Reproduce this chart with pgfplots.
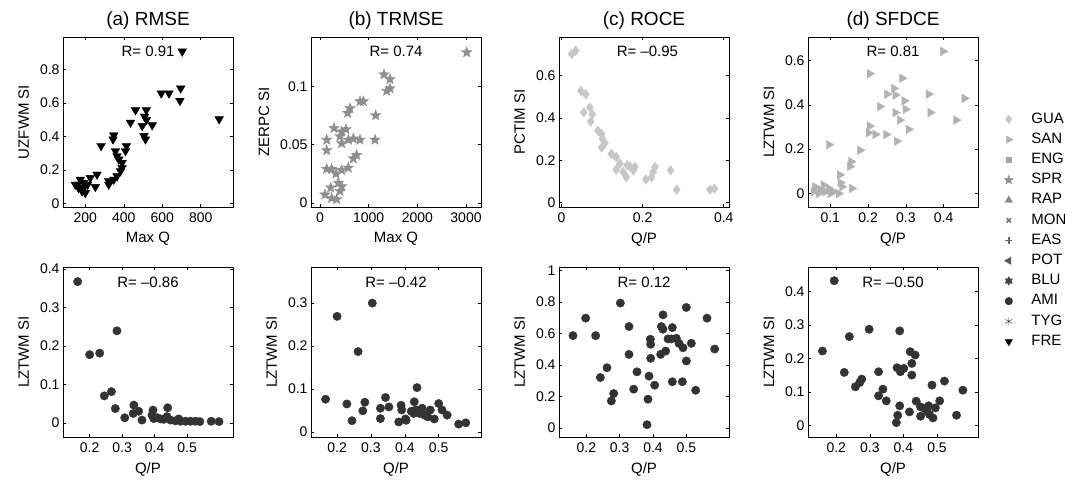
\documentclass[border=0pt]{standalone}
\usepackage{fontspec}
\setmainfont{Liberation Sans}
\usepackage{pgfplots}
\pgfplotsset{compat=1.18}
\usetikzlibrary{plotmarks}

% filled five-point star
\pgfdeclareplotmark{fstar}{%
  \pgfpathmoveto{\pgfpointpolar{90}{\pgfplotmarksize}}%
  \pgfpathlineto{\pgfpointpolar{126}{0.42\pgfplotmarksize}}%
  \pgfpathlineto{\pgfpointpolar{162}{\pgfplotmarksize}}%
  \pgfpathlineto{\pgfpointpolar{198}{0.42\pgfplotmarksize}}%
  \pgfpathlineto{\pgfpointpolar{234}{\pgfplotmarksize}}%
  \pgfpathlineto{\pgfpointpolar{270}{0.42\pgfplotmarksize}}%
  \pgfpathlineto{\pgfpointpolar{306}{\pgfplotmarksize}}%
  \pgfpathlineto{\pgfpointpolar{342}{0.42\pgfplotmarksize}}%
  \pgfpathlineto{\pgfpointpolar{18}{\pgfplotmarksize}}%
  \pgfpathlineto{\pgfpointpolar{54}{0.42\pgfplotmarksize}}%
  \pgfpathclose
  \pgfusepathqfillstroke}
% six-point star (hexagram)
\pgfdeclareplotmark{hexstar}{%
  \pgfpathmoveto{\pgfpointpolar{90}{\pgfplotmarksize}}%
  \pgfpathlineto{\pgfpointpolar{210}{\pgfplotmarksize}}%
  \pgfpathlineto{\pgfpointpolar{330}{\pgfplotmarksize}}%
  \pgfpathclose
  \pgfpathmoveto{\pgfpointpolar{270}{\pgfplotmarksize}}%
  \pgfpathlineto{\pgfpointpolar{390}{\pgfplotmarksize}}%
  \pgfpathlineto{\pgfpointpolar{510}{\pgfplotmarksize}}%
  \pgfpathclose
  \pgfusepathqfillstroke}

\definecolor{cGUA}{gray}{0.78}
\definecolor{cSAN}{gray}{0.70}
\definecolor{cENG}{gray}{0.64}
\definecolor{cSPR}{gray}{0.56}
\definecolor{cRAP}{gray}{0.52}
\definecolor{cMON}{gray}{0.46}
\definecolor{cEAS}{gray}{0.40}
\definecolor{cPOT}{gray}{0.34}
\definecolor{cBLU}{gray}{0.27}
\definecolor{cAMI}{gray}{0.20}
\definecolor{cTYG}{gray}{0.12}
\definecolor{cFRE}{gray}{0.0}

\newcommand\tk{\fontsize{14}{14}\selectfont}
\newcommand\lb{\fontsize{15}{15}\selectfont}
\newcommand\ttl{\fontsize{19}{19}\selectfont}

\tikzset{rtext/.style={font=\lb}}
\pgfplotsset{
  panel/.style={
    scale only axis, width=170pt, height=170pt, anchor=south west,
    axis line style={line width=0.9pt}, tick style={line width=0.5pt, black},
    major tick length=3pt, tick align=inside,
    ticklabel style={font=\tk}, label style={font=\lb},
    title style={font=\ttl, yshift=-2pt},
    xticklabel style={yshift=-2pt},
    /pgf/number format/assume math mode=true,
    scaled ticks=false,
    xlabel style={yshift=-3pt}, ylabel style={yshift=4pt},
  },
}

\begin{document}
\begin{tikzpicture}
\useasboundingbox (0pt,0pt) rectangle (1065pt,480pt);

% (a) RMSE
\begin{axis}[panel, at={(63pt,273pt)}, title={(a) RMSE},
  xmin=84, xmax=968, ymin=-0.02, ymax=0.994,
  xtick={200,400,600,800}, xticklabels={200,400,600,800},
  ytick={0,0.2,0.4,0.6,0.8}, yticklabels={0,0.2,0.4,0.6,0.8},
  xlabel={Max Q}, ylabel={UZFWM SI}]
\addplot[only marks, mark=triangle*, mark size=5pt, color=cFRE, mark options={rotate=180}] coordinates {
 (704,0.908)(696,0.688)(692,0.614)(595,0.658)(635,0.658)(896,0.504)(461,0.558)(517,0.558)
 (508,0.52)(518,0.50)(548,0.468)(496,0.464)(505,0.404)(513,0.384)(435,0.484)(348,0.408)
 (344,0.384)(282,0.344)(414,0.344)(409,0.314)(357,0.314)(365,0.284)(374,0.264)(391,0.244)
 (383,0.194)(365,0.164)(348,0.144)(322,0.134)(322,0.114)(391,0.214)(261,0.174)(226,0.154)
 (212,0.114)(252,0.10)(174,0.144)(191,0.124)(157,0.114)(165,0.094)(183,0.074)(200,0.064)
 (191,0.094)(148,0.114)};
\node[rtext] at (rel axis cs:0.5,0.915) {R= 0.91};
\end{axis}

% (b) TRMSE
\begin{axis}[panel, at={(311pt,273pt)}, title={(b) TRMSE},
  xmin=-185, xmax=3308, ymin=-0.0036, ymax=0.1422,
  xtick={0,1000,2000,3000}, xticklabels={0,1000,2000,3000},
  ytick={0,0.05,0.1}, yticklabels={0,0.05,0.1},
  xlabel={Max Q}, ylabel={ZERPC SI}]
\addplot[only marks, mark=fstar, mark size=5.5pt, color=cSPR] coordinates {
 (3014,0.129)(1315,0.110)(1438,0.106)(1370,0.096)(1438,0.098)(1144,0.075)(1130,0.054)
 (822,0.087)(890,0.087)(616,0.081)(568,0.077)(288,0.064)(445,0.061)(534,0.063)(411,0.057)
 (445,0.051)(582,0.054)(685,0.055)(822,0.054)(137,0.054)(137,0.045)(753,0.041)(685,0.038)
 (582,0.030)(137,0.029)(240,0.029)(329,0.025)(445,0.028)(377,0.017)(445,0.014)(411,0.010)
 (103,0.007)(240,0.004)(343,0.003)(219,0.013)};
\node[rtext] at (rel axis cs:0.5,0.915) {R= 0.74};
\end{axis}

% (c) ROCE
\begin{axis}[panel, at={(559pt,273pt)}, title={(c) ROCE},
  xmin=-0.006, xmax=0.413, ymin=-0.02, ymax=0.78,
  xtick={0,0.2,0.4}, xticklabels={0,0.2,0.4},
  ytick={0,0.2,0.4,0.6}, yticklabels={0,0.2,0.4,0.6},
  xlabel={Q/P}, ylabel={PCTIM SI}]
\addplot[only marks, mark=diamond*, mark size=4.8pt, color=cGUA] coordinates {
 (0.025,0.70)(0.035,0.715)(0.048,0.526)(0.060,0.51)(0.055,0.425)(0.070,0.448)(0.076,0.416)
 (0.072,0.382)(0.090,0.339)(0.099,0.323)(0.101,0.30)(0.107,0.28)(0.099,0.26)(0.123,0.23)
 (0.135,0.215)(0.135,0.156)(0.144,0.184)(0.152,0.145)(0.160,0.121)(0.162,0.177)(0.181,0.168)
 (0.177,0.152)(0.208,0.109)(0.222,0.121)(0.226,0.145)(0.230,0.168)(0.269,0.152)(0.284,0.062)
 (0.366,0.062)(0.377,0.067)(0.169,0.171)};
\node[rtext] at (rel axis cs:0.52,0.915) {R= \textendash0.95};
\end{axis}

% (d) SFDCE
\begin{axis}[panel, at={(808pt,273pt)}, title={(d) SFDCE},
  xmin=0.041, xmax=0.491, ymin=-0.061, ymax=0.706,
  xtick={0.1,0.2,0.3,0.4}, xticklabels={0.1,0.2,0.3,0.4},
  ytick={0,0.2,0.4,0.6}, yticklabels={0,0.2,0.4,0.6},
  xlabel={Q/P}, ylabel={LZTWM SI}]
\addplot[only marks, mark=triangle*, mark size=5pt, color=cSAN, mark options={rotate=-90}] coordinates {
 (0.398,0.641)(0.204,0.54)(0.290,0.52)(0.268,0.474)(0.25,0.448)(0.272,0.444)(0.36,0.448)
 (0.455,0.429)(0.231,0.392)(0.296,0.418)(0.299,0.38)(0.272,0.365)(0.365,0.365)(0.433,0.331)
 (0.284,0.331)(0.204,0.304)(0.201,0.274)(0.219,0.266)(0.248,0.266)(0.307,0.289)(0.276,0.236)
 (0.096,0.22)(0.179,0.195)(0.155,0.144)(0.152,0.122)(0.125,0.084)(0.127,0.049)(0.157,0.023)
 (0.060,0.03)(0.074,0.015)(0.082,0.038)(0.096,0.023)(0.109,0.008)(0.122,0.0)(0.069,0.0)
 (0.056,0.008)(0.100,0.0)(0.131,0.03)(0.087,0.008)};
\node[rtext] at (rel axis cs:0.5,0.915) {R= 0.81};
\end{axis}

% bottom (a)
\begin{axis}[panel, at={(63pt,43pt)},
  xmin=0.118, xmax=0.641, ymin=-0.037, ymax=0.405,
  xtick={0.2,0.3,0.4,0.5}, xticklabels={0.2,0.3,0.4,0.5},
  ytick={0,0.1,0.2,0.3,0.4}, yticklabels={0,0.1,0.2,0.3,0.4},
  xlabel={Q/P}, ylabel={LZTWM SI}]
\addplot[only marks, mark=*, mark size=4.2pt, color=cAMI] coordinates {
 (0.163,0.367)(0.2,0.177)(0.231,0.181)(0.284,0.239)(0.245,0.07)(0.267,0.081)(0.279,0.037)
 (0.308,0.013)(0.336,0.046)(0.334,0.024)(0.351,0.03)(0.361,0.007)(0.395,0.033)(0.397,0.011)
 (0.408,0.013)(0.44,0.039)(0.438,0.016)(0.449,0.007)(0.464,0.005)(0.48,0.004)(0.495,0.004)
 (0.51,0.004)(0.526,0.004)(0.539,0.003)(0.428,0.009)(0.474,0.01)(0.418,0.01)(0.574,0.004)
 (0.598,0.003)(0.392,0.02)};
\node[rtext] at (rel axis cs:0.5,0.91) {R= \textendash0.86};
\end{axis}

% bottom (b)
\begin{axis}[panel, at={(311pt,43pt)},
  xmin=0.123, xmax=0.625, ymin=-0.012, ymax=0.384,
  xtick={0.2,0.3,0.4,0.5}, xticklabels={0.2,0.3,0.4,0.5},
  ytick={0,0.1,0.2,0.3}, yticklabels={0,0.1,0.2,0.3},
  xlabel={Q/P}, ylabel={LZTWM SI}]
\addplot[only marks, mark=*, mark size=4.2pt, color=cAMI] coordinates {
 (0.166,0.076)(0.2,0.269)(0.229,0.065)(0.244,0.026)(0.262,0.187)(0.276,0.049)(0.282,0.069)
 (0.304,0.30)(0.328,0.031)(0.328,0.055)(0.343,0.080)(0.353,0.058)(0.382,0.023)(0.389,0.062)
 (0.391,0.051)(0.402,0.03)(0.404,0.027)(0.426,0.043)(0.428,0.07)(0.436,0.103)(0.433,0.051)
 (0.443,0.043)(0.451,0.055)(0.458,0.039)(0.475,0.051)(0.487,0.03)(0.50,0.066)(0.51,0.051)
 (0.525,0.039)(0.559,0.018)(0.580,0.021)(0.419,0.048)(0.468,0.035)};
\node[rtext] at (rel axis cs:0.5,0.91) {R= \textendash0.42};
\end{axis}

% bottom (c)
\begin{axis}[panel, at={(559pt,43pt)},
  xmin=0.118, xmax=0.628, ymin=-0.057, ymax=1.023,
  xtick={0.2,0.3,0.4,0.5}, xticklabels={0.2,0.3,0.4,0.5},
  ytick={0,0.2,0.4,0.6,0.8,1}, yticklabels={0,0.2,0.4,0.6,0.8,1},
  xlabel={Q/P}, ylabel={LZTWM SI}]
\addplot[only marks, mark=*, mark size=4.2pt, color=cAMI] coordinates {
 (0.16,0.587)(0.198,0.698)(0.228,0.587)(0.242,0.321)(0.262,0.383)(0.282,0.219)(0.275,0.172)
 (0.302,0.794)(0.328,0.645)(0.328,0.468)(0.342,0.247)(0.352,0.357)(0.385,0.183)(0.382,0.021)
 (0.388,0.33)(0.393,0.532)(0.393,0.443)(0.392,0.564)(0.405,0.272)(0.423,0.468)(0.438,0.489)
 (0.43,0.719)(0.425,0.645)(0.43,0.628)(0.445,0.566)(0.458,0.638)(0.458,0.294)(0.47,0.57)
 (0.478,0.538)(0.49,0.51)(0.488,0.294)(0.50,0.766)(0.50,0.426)(0.515,0.538)(0.528,0.24)
 (0.562,0.698)(0.585,0.502)(0.455,0.566)};
\node[rtext] at (rel axis cs:0.5,0.91) {R= 0.12};
\end{axis}

% bottom (d) with legend
\begin{axis}[panel, at={(808pt,43pt)},
  xmin=0.116, xmax=0.622, ymin=-0.035, ymax=0.473,
  xtick={0.2,0.3,0.4,0.5}, xticklabels={0.2,0.3,0.4,0.5},
  ytick={0,0.1,0.2,0.3,0.4}, yticklabels={0,0.1,0.2,0.3,0.4},
  xlabel={Q/P}, ylabel={LZTWM SI},
  legend style={at={(1.153,1.921)}, anchor=north west, draw=none, fill=none,
    inner sep=0pt, font=\lb, row sep=2.7pt,
    nodes={inner sep=2pt, text height=10.5pt, text depth=3pt},
    /tikz/every odd column/.append style={column sep=16pt}},
  legend cell align=left]
\addplot[forget plot, only marks, mark=*, mark size=4.2pt, color=cAMI] coordinates {
 (0.159,0.222)(0.194,0.432)(0.224,0.158)(0.239,0.265)(0.257,0.115)(0.27,0.128)(0.276,0.138)
 (0.298,0.287)(0.326,0.16)(0.339,0.108)(0.326,0.088)(0.349,0.073)(0.379,0.008)(0.383,0.03)
 (0.389,0.058)(0.389,0.282)(0.381,0.172)(0.391,0.16)(0.401,0.17)(0.418,0.04)(0.425,0.15)
 (0.425,0.185)(0.42,0.22)(0.435,0.21)(0.438,0.072)(0.451,0.055)(0.451,0.027)(0.463,0.05)
 (0.47,0.042)(0.478,0.032)(0.485,0.12)(0.488,0.022)(0.495,0.052)(0.508,0.073)(0.522,0.132)
 (0.558,0.03)(0.577,0.105)(0.475,0.058)};
\node[rtext] at (rel axis cs:0.5,0.91) {R= \textendash0.50};
\addlegendimage{only marks, mark=diamond*, mark size=4.3pt, color=cGUA}
\addlegendentry{GUA}
\addlegendimage{only marks, mark=triangle*, mark size=4.2pt, color=cSAN, mark options={rotate=-90}}
\addlegendentry{SAN}
\addlegendimage{only marks, mark=square*, mark size=2.6pt, color=cENG}
\addlegendentry{ENG}
\addlegendimage{only marks, mark=fstar, mark size=4.8pt, color=cSPR}
\addlegendentry{SPR}
\addlegendimage{only marks, mark=triangle*, mark size=4.2pt, color=cRAP}
\addlegendentry{RAP}
\addlegendimage{only marks, mark=x, mark size=3pt, color=cMON, mark options={line width=1.6pt}}
\addlegendentry{MON}
\addlegendimage{only marks, mark=+, mark size=3.5pt, color=cEAS, mark options={line width=1.6pt}}
\addlegendentry{EAS}
\addlegendimage{only marks, mark=triangle*, mark size=4.2pt, color=cPOT, mark options={rotate=90}}
\addlegendentry{POT}
\addlegendimage{only marks, mark=hexstar, mark size=4.2pt, color=cBLU}
\addlegendentry{BLU}
\addlegendimage{only marks, mark=*, mark size=3.8pt, color=cAMI}
\addlegendentry{AMI}
\addlegendimage{only marks, mark=asterisk, mark size=4pt, color=cTYG}
\addlegendentry{TYG}
\addlegendimage{only marks, mark=triangle*, mark size=4.2pt, color=cFRE, mark options={rotate=180}}
\addlegendentry{FRE}
\end{axis}
\end{tikzpicture}
\end{document}
